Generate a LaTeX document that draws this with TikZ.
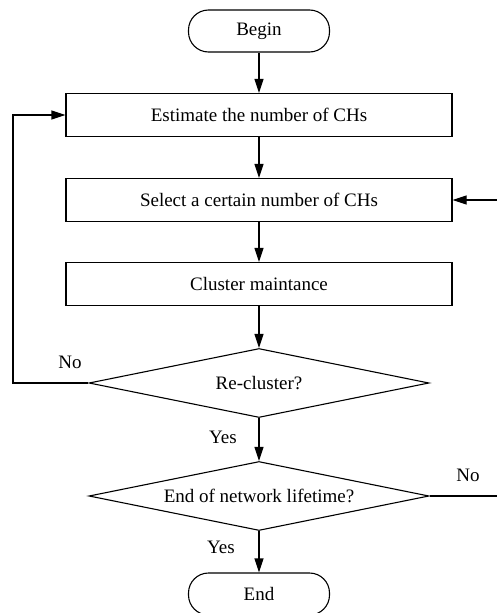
\documentclass[tikz,border=0pt]{standalone}
\usepackage{fontspec}
\setmainfont{Liberation Serif}
\usetikzlibrary{shapes.geometric,arrows.meta}
\begin{document}
\begin{tikzpicture}[x=1pt,y=-1pt,
  every node/.style={font=\fontsize{19}{22}\selectfont},
  line/.style={line width=1.1pt},
  flow/.style={line, -{Triangle[length=14pt,width=9pt]}},
  terminal/.style={draw, line width=1.1pt, rounded corners=20pt, minimum width=141pt, minimum height=42pt, inner sep=0pt},
  process/.style={draw, line width=1.1pt, minimum width=386pt, minimum height=43pt, inner sep=0pt},
  decision/.style={draw, line width=1.1pt, diamond, aspect=4.9, minimum width=340pt, minimum height=69pt, inner sep=0pt},
  lbl/.style={inner sep=0pt}]
\useasboundingbox (0,0) rectangle (497,613);

% main column
\node[terminal] (begin) at (259,31) {Begin};
\node[process]  (est)   at (259,115) {Estimate the number of CHs};
\node[process]  (sel)   at (259,200) {Select a certain number of CHs};
\node[process]  (clu)   at (259,284) {Cluster maintance};
\node[decision] (rc)    at (259,383) {Re-cluster?};
\node[decision] (eol)   at (259,496) {End of network lifetime?};
\node[terminal] (end)   at (259,594) {End};

% loose ends at the right border
\coordinate (selin) at (497,200);
\coordinate (eolout) at (497,496);

% labels
\node[lbl] (no1)  at (70,362)  {No};
\node[lbl] (yes1) at (223,437) {Yes};
\node[lbl] (no2)  at (468,475) {No};
\node[lbl] (yes2) at (221,547) {Yes};

% connectors
\draw[flow] (begin) -- (est);
\draw[flow] (est) -- (sel);
\draw[flow] (sel) -- (clu);
\draw[flow] (clu) -- (rc.north);
\draw[flow] (rc.south) -- (eol.north);
\draw[flow] (eol.south) -- (end);
\draw[flow] (rc.west) -- (13,383) |- (est.west);
\draw[line] (eol.east) -- (eolout);
\draw[flow] (selin) -- (sel.east);
\end{tikzpicture}
\end{document}
